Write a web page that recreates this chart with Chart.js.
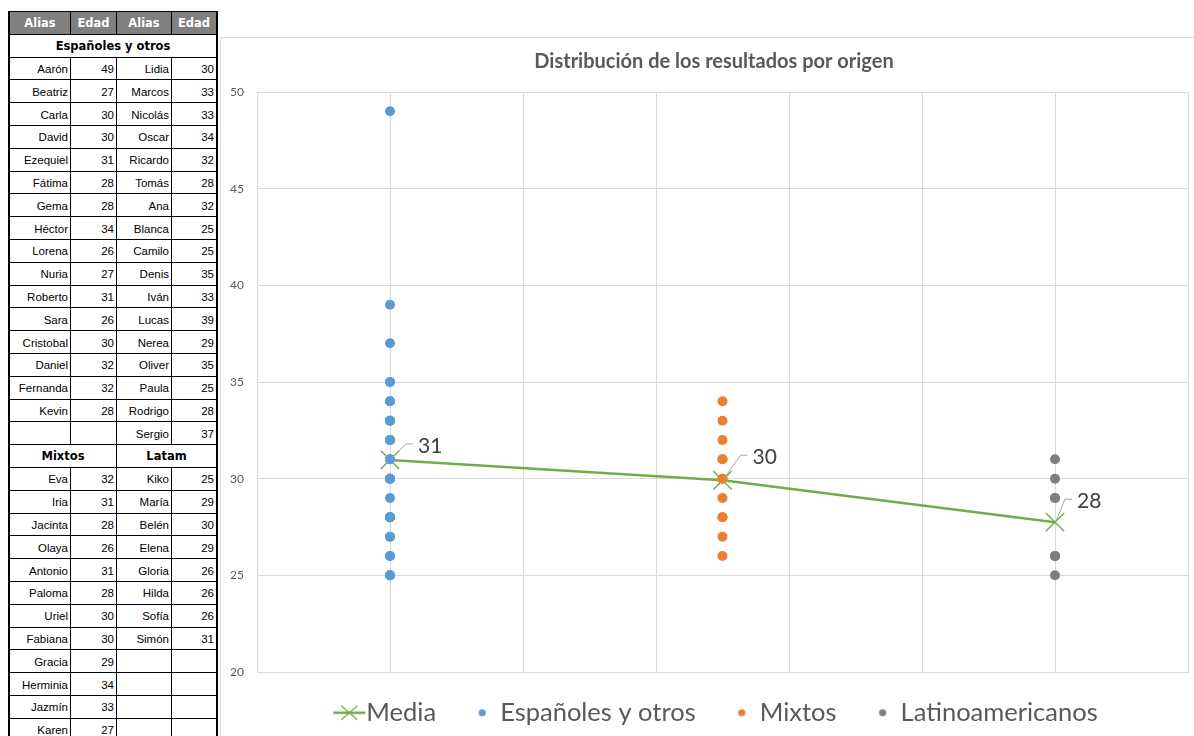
<!DOCTYPE html>
<html lang="es">
<head>
<meta charset="utf-8">
<title>Distribución de los resultados por origen</title>
<script src="https://cdn.jsdelivr.net/npm/chart.js@4.4.1/dist/chart.umd.min.js"></script>
<style>
  html, body { margin: 0; padding: 0; background: #fff; width: 1194px; height: 736px; overflow: hidden; }
  #tabla {
    position: absolute; left: 8px; top: 11px;
    display: grid;
    grid-template-columns: 61px 46px 55px 45px;
    grid-template-rows: repeat(32, 22.8px);
    border-left: 2px solid #000; border-top: 1px solid #000; border-right: 1px solid #000;
    font-family: "Liberation Sans", Arial, sans-serif; font-size: 11.5px; color: #000;
  }
  #tabla div {
    box-sizing: border-box;
    border-right: 1px solid #000; border-bottom: 1px solid #000;
    display: flex; align-items: center; justify-content: flex-end;
    padding: 1px 2px 0 0; white-space: nowrap; overflow: hidden;
  }
  #tabla div.cab {
    background: #808080; color: #fff; justify-content: center;
    font-family: "DejaVu Sans", Verdana, sans-serif; font-weight: bold; font-size: 11.5px; padding: 0;
  }
  #tabla div.sec {
    justify-content: center; font-family: "DejaVu Sans", Verdana, sans-serif;
    font-weight: bold; font-size: 11.5px; padding: 0;
  }
  #marco {
    position: absolute; left: 220px; top: 37px; width: 1000px; height: 800px;
    box-sizing: border-box; border: 1px solid #d9d9d9;
  }
  #grafico { position: absolute; left: 220px; top: 37px; }
</style>
</head>
<body>
<div id="tabla"></div>
<div id="marco"></div>
<canvas id="grafico" width="988" height="699"></canvas>
<script>
// Alias y edades por grupo
const espNames = ["Aarón","Beatriz","Carla","David","Ezequiel","Fátima","Gema","Héctor","Lorena","Nuria","Roberto","Sara","Cristobal","Daniel","Fernanda","Kevin",
                  "Lidia","Marcos","Nicolás","Oscar","Ricardo","Tomás","Ana","Blanca","Camilo","Denis","Iván","Lucas","Nerea","Oliver","Paula","Rodrigo","Sergio"];
const espAges  = [49,27,30,30,31,28,28,34,26,27,31,26,30,32,32,28,
                  30,33,33,34,32,28,32,25,25,35,33,39,29,35,25,28,37];
const mixNames = ["Eva","Iria","Jacinta","Olaya","Antonio","Paloma","Uriel","Fabiana","Gracia","Herminia","Jazmín","Karen"];
const mixAges  = [32,31,28,26,31,28,30,30,29,34,33,27];
const latNames = ["Kiko","María","Belén","Elena","Gloria","Hilda","Sofía","Simón"];
const latAges  = [25,29,30,29,26,26,26,31];

const tableHeaders = ["Alias","Edad","Alias","Edad"];
const sectionTitles = ["Españoles y otros","Mixtos","Latam"];

const seriesNames = ["Media","Españoles y otros","Mixtos","Latinoamericanos"];
const groupX = [1, 3.5, 6];
const mediaValues = [30.97, 29.92, 27.75];
const yMin = 20, yMax = 50, yStep = 5;

// ---------- tabla ----------
const tabla = document.getElementById('tabla');
function cell(text, cls, span) {
  const d = document.createElement('div');
  if (cls) d.className = cls;
  if (span) d.style.gridColumn = 'span ' + span;
  d.textContent = text == null ? '' : String(text);
  tabla.appendChild(d);
}
tableHeaders.forEach(h => cell(h, 'cab'));
cell(sectionTitles[0], 'sec', 4);
const espSplit = 16;
const espRows = Math.max(espSplit, espNames.length - espSplit);
for (let r = 0; r < espRows; r++) {
  cell(r < espSplit ? espNames[r] : '');
  cell(r < espSplit ? espAges[r] : '');
  cell(espNames[espSplit + r]);
  cell(espAges[espSplit + r]);
}
cell(sectionTitles[1], 'sec', 2);
cell(sectionTitles[2], 'sec', 2);
const lowRows = Math.max(mixNames.length, latNames.length);
for (let r = 0; r < lowRows; r++) {
  cell(mixNames[r]); cell(mixAges[r]);
  cell(latNames[r]); cell(latAges[r]);
}

// ---------- gráfico ----------
const GREEN = '#70AD47', BLUE = '#5B9BD5', ORANGE = '#ED7D31', GREY = '#7F7F7F';
const LEG_FONT = 25.5;
const LEG_PAD = 28;
const LEG_TEXT = 36;                      // distancia del inicio del elemento al texto
const LEG_BOX = LEG_TEXT - LEG_FONT / 2;  // ancho reservado al símbolo

// símbolo de leyenda dibujado en un canvas; rel = posición respecto al inicio del elemento
function legendIcon(minRel, maxRel, draw) {
  const half = Math.ceil(Math.max(LEG_BOX / 2 - minRel, maxRel - LEG_BOX / 2)) + 1;
  const c = document.createElement('canvas');
  c.width = half * 2; c.height = 26;
  const g = c.getContext('2d');
  const off = half - LEG_BOX / 2;
  draw(g, off, c.height / 2);
  return c;
}
const lineStart = LEG_TEXT - 33, lineEnd = LEG_TEXT - 1;
const iconMedia = legendIcon(lineStart, lineEnd, (g, off, cy) => {
  g.strokeStyle = GREEN; g.lineWidth = 2.5;
  g.beginPath(); g.moveTo(off + lineStart, cy); g.lineTo(off + lineEnd, cy); g.stroke();
  g.lineWidth = 1.3;
  const cx = off + (lineStart + lineEnd) / 2;
  g.beginPath();
  g.moveTo(cx - 8, cy - 7); g.lineTo(cx + 8, cy + 7);
  g.moveTo(cx - 8, cy + 7); g.lineTo(cx + 8, cy - 7);
  g.stroke();
});
const dotRel = LEG_TEXT - 18;
function dotIcon(color) {
  return legendIcon(dotRel - 4, dotRel + 4, (g, off, cy) => {
    g.fillStyle = color;
    g.beginPath(); g.arc(off + dotRel, cy, 3.6, 0, Math.PI * 2); g.fill();
  });
}
const legendIcons = [iconMedia, dotIcon(BLUE), dotIcon(ORANGE), dotIcon(GREY)];

const groupAges = [espAges, mixAges, latAges];
const groupColors = [BLUE, ORANGE, GREY];

const datasets = [{
  label: seriesNames[0],
  data: mediaValues.map((v, i) => ({ x: groupX[i], y: v })),
  showLine: true,
  borderColor: GREEN,
  borderWidth: 2.5,
  pointStyle: 'crossRot',
  pointRadius: 13,
  pointBorderWidth: 1.4,
  pointBorderColor: GREEN,
  pointBackgroundColor: GREEN,
  order: 1
}];
groupAges.forEach((ages, g) => {
  datasets.push({
    label: seriesNames[g + 1],
    data: ages.map(a => ({ x: groupX[g], y: a })),
    backgroundColor: groupColors[g],
    borderWidth: 0,
    pointRadius: 5,
    pointHoverRadius: 5,
    order: 0
  });
});

// etiquetas de la media con línea guía
const mediaLabels = {
  id: 'mediaLabels',
  afterDatasetsDraw(chart, args, opts) {
    const meta = chart.getDatasetMeta(0);
    const ctx = chart.ctx;
    ctx.save();
    meta.data.forEach((pt, i) => {
      const [dx, dy] = opts.offsets[i];
      const tx = pt.x + dx, ty = pt.y + dy;
      ctx.strokeStyle = '#a6a6a6';
      ctx.lineWidth = 1;
      ctx.beginPath();
      ctx.moveTo(pt.x + 1, pt.y - 1);
      ctx.lineTo(tx - 12, ty - 2);
      ctx.lineTo(tx - 5, ty - 2);
      ctx.stroke();
      ctx.fillStyle = '#404040';
      ctx.font = '21px Lato';
      ctx.textAlign = 'left';
      ctx.textBaseline = 'middle';
      ctx.fillText(String(Math.round(mediaValues[i])), tx, ty);
    });
    ctx.restore();
  }
};

Chart.defaults.font.family = 'Lato';
Chart.defaults.color = '#595959';

new Chart(document.getElementById('grafico'), {
  type: 'scatter',
  data: { datasets },
  plugins: [mediaLabels],
  options: {
    responsive: false,
    animation: false,
    layout: { padding: { left: 0, right: 0, top: 0, bottom: 0.5 } },
    scales: {
      x: {
        type: 'linear', min: 0, max: 7,
        ticks: { display: false, stepSize: 1 },
        grid: { color: '#d9d9d9', drawTicks: false },
        border: { color: '#d9d9d9' },
        afterFit(s) { s.height = 0; }
      },
      y: {
        position: 'left',
        min: yMin, max: yMax,
        ticks: { stepSize: yStep, padding: 13, color: '#595959', font: { size: 12 } },
        grid: { color: '#d9d9d9', drawTicks: false },
        border: { color: '#d9d9d9' },
        afterFit(s) { s.width = 37; }
      },
      margen: {
        type: 'linear', position: 'right',
        min: yMin, max: yMax,
        ticks: { display: false },
        grid: { display: false, drawTicks: false },
        border: { display: false },
        afterFit(s) { s.width = 20; }
      }
    },
    plugins: {
      title: {
        display: true,
        text: 'Distribución de los resultados por origen',
        color: '#595959',
        font: { size: 20, weight: 'bold' },
        padding: { top: 13, bottom: 18 }
      },
      legend: {
        position: 'bottom',
        labels: {
          usePointStyle: true,
          pointStyleWidth: LEG_BOX,
          padding: LEG_PAD,
          color: '#595959',
          font: { size: LEG_FONT },
          generateLabels(chart) {
            return chart.data.datasets.map((ds, i) => ({
              text: ds.label,
              pointStyle: legendIcons[i],
              fillStyle: 'transparent',
              strokeStyle: 'transparent',
              lineWidth: 0,
              fontColor: '#595959',
              hidden: false,
              datasetIndex: i
            }));
          }
        }
      },
      tooltip: { enabled: false },
      mediaLabels: { offsets: [[28, -14], [30, -23], [22, -21]] }
    }
  }
});
</script>
</body>
</html>
